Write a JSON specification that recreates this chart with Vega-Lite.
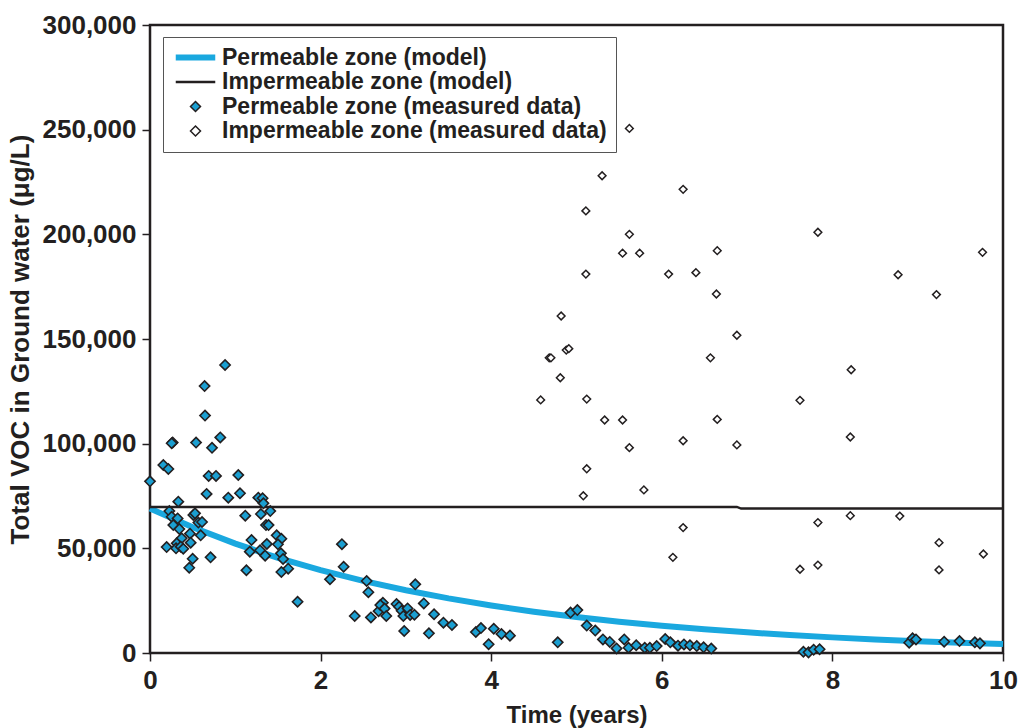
{
  "$schema": "https://vega.github.io/schema/vega-lite/v6.json",
  "width": 853,
  "height": 628,
  "autosize": {"type": "none"},
  "padding": {"left": 150, "top": 25, "right": 17, "bottom": 75},
  "background": "#ffffff",
  "config": {
    "font": "Liberation Sans",
    "view": {"stroke": "#231f20", "strokeWidth": 2.5},
    "axis": {
      "domain": false,
      "grid": false,
      "labelFlush": false,
      "tickColor": "#231f20",
      "tickWidth": 1.5,
      "tickSize": 8,
      "labelFont": "Liberation Sans",
      "labelFontWeight": "bold",
      "labelFontSize": 26,
      "labelColor": "#231f20",
      "titleFont": "Liberation Sans",
      "titleFontWeight": "bold",
      "titleFontSize": 24,
      "titleColor": "#231f20"
    }
  },
  "datasets": {
    "model": [
      {"series": "Permeable zone (model)", "t": 0, "v": 69000},
      {"series": "Permeable zone (model)", "t": 0.5, "v": 60045},
      {"series": "Permeable zone (model)", "t": 1, "v": 52254},
      {"series": "Permeable zone (model)", "t": 1.5, "v": 45471},
      {"series": "Permeable zone (model)", "t": 2, "v": 39571},
      {"series": "Permeable zone (model)", "t": 2.5, "v": 34437},
      {"series": "Permeable zone (model)", "t": 3, "v": 29967},
      {"series": "Permeable zone (model)", "t": 3.5, "v": 26080},
      {"series": "Permeable zone (model)", "t": 4, "v": 22694},
      {"series": "Permeable zone (model)", "t": 4.5, "v": 19750},
      {"series": "Permeable zone (model)", "t": 5, "v": 17187},
      {"series": "Permeable zone (model)", "t": 5.5, "v": 14957},
      {"series": "Permeable zone (model)", "t": 6, "v": 13015},
      {"series": "Permeable zone (model)", "t": 6.5, "v": 11327},
      {"series": "Permeable zone (model)", "t": 7, "v": 9857},
      {"series": "Permeable zone (model)", "t": 7.5, "v": 8578},
      {"series": "Permeable zone (model)", "t": 8, "v": 7465},
      {"series": "Permeable zone (model)", "t": 8.5, "v": 6496},
      {"series": "Permeable zone (model)", "t": 9, "v": 5653},
      {"series": "Permeable zone (model)", "t": 9.5, "v": 4920},
      {"series": "Permeable zone (model)", "t": 10, "v": 4281},
      {"series": "Impermeable zone (model)", "t": 0, "v": 69800},
      {"series": "Impermeable zone (model)", "t": 6.88, "v": 69800},
      {"series": "Impermeable zone (model)", "t": 6.93, "v": 69000},
      {"series": "Impermeable zone (model)", "t": 10, "v": 69000}
    ],
    "permeable": [
      {"t": 0, "v": 82000}, {"t": 0.88, "v": 137600}, {"t": 0.64, "v": 127500}, {"t": 0.645, "v": 113400},
      {"t": 0.266, "v": 100600}, {"t": 0.254, "v": 100200}, {"t": 0.54, "v": 100500}, {"t": 0.824, "v": 103000},
      {"t": 0.727, "v": 98000}, {"t": 0.156, "v": 89800}, {"t": 0.215, "v": 87900}, {"t": 0.688, "v": 84600},
      {"t": 0.774, "v": 84600}, {"t": 1.035, "v": 85000}, {"t": 0.332, "v": 72300}, {"t": 0.664, "v": 76000},
      {"t": 0.918, "v": 74200}, {"t": 1.055, "v": 76300}, {"t": 1.27, "v": 74200}, {"t": 1.32, "v": 73900},
      {"t": 1.33, "v": 71500}, {"t": 1.41, "v": 67800}, {"t": 0.227, "v": 67800}, {"t": 0.254, "v": 65100},
      {"t": 0.324, "v": 64300}, {"t": 0.273, "v": 61100}, {"t": 0.344, "v": 59200}, {"t": 0.508, "v": 65900},
      {"t": 0.528, "v": 66700}, {"t": 0.567, "v": 62300}, {"t": 0.61, "v": 62600}, {"t": 0.594, "v": 56200},
      {"t": 0.469, "v": 57000}, {"t": 0.371, "v": 54800}, {"t": 0.313, "v": 52400}, {"t": 0.305, "v": 50000},
      {"t": 0.36, "v": 50800}, {"t": 0.39, "v": 49800}, {"t": 0.195, "v": 50600}, {"t": 0.477, "v": 52700},
      {"t": 0.5, "v": 45000}, {"t": 0.46, "v": 40700}, {"t": 0.71, "v": 45700}, {"t": 1.117, "v": 65600},
      {"t": 1.19, "v": 54000}, {"t": 1.17, "v": 48400}, {"t": 1.13, "v": 39500}, {"t": 1.3, "v": 66400},
      {"t": 1.36, "v": 61100}, {"t": 1.39, "v": 61100}, {"t": 1.37, "v": 52100}, {"t": 1.29, "v": 49100},
      {"t": 1.35, "v": 46500}, {"t": 1.485, "v": 56200}, {"t": 1.54, "v": 54600}, {"t": 1.5, "v": 51900},
      {"t": 1.535, "v": 47600}, {"t": 1.56, "v": 44900}, {"t": 1.62, "v": 40300}, {"t": 1.54, "v": 38700},
      {"t": 1.73, "v": 24500}, {"t": 2.11, "v": 35200}, {"t": 2.25, "v": 52000}, {"t": 2.27, "v": 41200},
      {"t": 2.54, "v": 34400}, {"t": 2.56, "v": 29000}, {"t": 3.11, "v": 32800}, {"t": 2.4, "v": 17700},
      {"t": 2.59, "v": 17000}, {"t": 2.68, "v": 20000}, {"t": 2.73, "v": 24000}, {"t": 2.7, "v": 22900},
      {"t": 2.75, "v": 21200}, {"t": 2.77, "v": 17700}, {"t": 2.89, "v": 23400}, {"t": 2.92, "v": 22100},
      {"t": 2.95, "v": 20200}, {"t": 2.97, "v": 17700}, {"t": 3.02, "v": 21300}, {"t": 3.05, "v": 18200},
      {"t": 3.1, "v": 18300}, {"t": 2.98, "v": 10500}, {"t": 3.21, "v": 23700}, {"t": 3.33, "v": 18500},
      {"t": 3.27, "v": 9400}, {"t": 3.44, "v": 14500}, {"t": 3.54, "v": 13400}, {"t": 3.82, "v": 10000},
      {"t": 3.88, "v": 11900}, {"t": 4.03, "v": 11600}, {"t": 3.97, "v": 4200}, {"t": 4.12, "v": 9100},
      {"t": 4.22, "v": 8300}, {"t": 4.78, "v": 5100}, {"t": 4.93, "v": 19300}, {"t": 5.01, "v": 20500},
      {"t": 5.12, "v": 13100}, {"t": 5.22, "v": 10700}, {"t": 5.31, "v": 6500}, {"t": 5.39, "v": 5300},
      {"t": 5.47, "v": 2200}, {"t": 5.56, "v": 6500}, {"t": 5.61, "v": 2500}, {"t": 5.7, "v": 3700},
      {"t": 5.8, "v": 2500}, {"t": 5.86, "v": 2500}, {"t": 5.94, "v": 3300}, {"t": 6.04, "v": 6700},
      {"t": 6.1, "v": 5100}, {"t": 6.19, "v": 3500}, {"t": 6.26, "v": 4100}, {"t": 6.33, "v": 3700},
      {"t": 6.41, "v": 3300}, {"t": 6.49, "v": 2700}, {"t": 6.58, "v": 2100}, {"t": 7.66, "v": 600},
      {"t": 7.72, "v": 300}, {"t": 7.78, "v": 1600}, {"t": 7.85, "v": 1800}, {"t": 8.9, "v": 4900},
      {"t": 8.94, "v": 7000}, {"t": 8.98, "v": 6500}, {"t": 9.31, "v": 5400}, {"t": 9.49, "v": 5700},
      {"t": 9.67, "v": 5100}, {"t": 9.73, "v": 4600}
    ],
    "impermeable": [
      {"t": 5.62, "v": 250600}, {"t": 5.3, "v": 228000}, {"t": 6.25, "v": 221500}, {"t": 5.11, "v": 211200},
      {"t": 5.62, "v": 200000}, {"t": 5.54, "v": 191000}, {"t": 5.74, "v": 191000}, {"t": 6.65, "v": 192200},
      {"t": 5.11, "v": 181000}, {"t": 6.08, "v": 181000}, {"t": 6.4, "v": 181700}, {"t": 6.64, "v": 171500},
      {"t": 4.82, "v": 161000}, {"t": 6.88, "v": 151800}, {"t": 6.57, "v": 141000}, {"t": 4.68, "v": 141000},
      {"t": 4.7, "v": 141000}, {"t": 4.88, "v": 144700}, {"t": 4.91, "v": 145400}, {"t": 4.81, "v": 131500},
      {"t": 4.58, "v": 120900}, {"t": 5.12, "v": 121300}, {"t": 5.33, "v": 111300}, {"t": 5.54, "v": 111300},
      {"t": 6.65, "v": 111600}, {"t": 6.25, "v": 101400}, {"t": 6.88, "v": 99400}, {"t": 5.62, "v": 98100},
      {"t": 5.12, "v": 88000}, {"t": 5.79, "v": 77900}, {"t": 5.08, "v": 75100}, {"t": 6.25, "v": 59900},
      {"t": 6.13, "v": 45700}, {"t": 7.83, "v": 201000}, {"t": 9.76, "v": 191400}, {"t": 8.77, "v": 180700},
      {"t": 9.22, "v": 171200}, {"t": 8.22, "v": 135300}, {"t": 7.62, "v": 120700}, {"t": 8.21, "v": 103200},
      {"t": 7.83, "v": 62300}, {"t": 8.21, "v": 65600}, {"t": 8.79, "v": 65400}, {"t": 9.25, "v": 52700},
      {"t": 9.77, "v": 47300}, {"t": 7.62, "v": 40000}, {"t": 7.83, "v": 42000}, {"t": 9.25, "v": 39700}
    ]
  },
  "encoding": {
    "x": {
      "field": "t", "type": "quantitative",
      "scale": {"domain": [0, 10], "nice": false, "zero": false},
      "axis": {"values": [0, 2, 4, 6, 8, 10], "title": "Time (years)", "labelPadding": 6, "titlePadding": 10}
    },
    "y": {
      "field": "v", "type": "quantitative",
      "scale": {"domain": [0, 300000], "nice": false},
      "axis": {"values": [0, 50000, 100000, 150000, 200000, 250000, 300000], "format": ",d", "title": "Total VOC in Ground water (μg/L)", "titleFontSize": 26, "labelPadding": 6, "titlePadding": 9}
    }
  },
  "layer": [
    {
      "data": {"name": "model"},
      "transform": [{"filter": "datum.series === 'Permeable zone (model)'"}],
      "mark": {"type": "line", "color": "#1aa8df", "strokeWidth": 6}
    },
    {
      "data": {"name": "model"},
      "transform": [{"filter": "datum.series === 'Impermeable zone (model)'"}],
      "mark": {"type": "line", "color": "#231f20", "strokeWidth": 2.5}
    },
    {
      "data": {"name": "permeable"},
      "mark": {"type": "point", "filled": true, "opacity": 1, "size": 105, "strokeWidth": 1.6},
      "encoding": {
        "shape": {"datum": "Permeable zone (measured data)", "type": "nominal",
          "scale": {"domain": ["Permeable zone (model)", "Impermeable zone (model)", "Permeable zone (measured data)", "Impermeable zone (measured data)"],
                    "range": ["M-3.8,-0.45H3.8V0.45H-3.8Z", "M-3.8,-0.1H3.8V0.1H-3.8Z", "diamond", "diamond"]},
          "legend": {
            "title": null, "orient": "none", "legendX": 13, "legendY": 12,
            "padding": 9, "strokeColor": "#555555", "fillColor": "#ffffff",
            "symbolSize": 100, "symbolStrokeWidth": 1.5, "symbolOffset": 12, "labelOffset": 15, "rowPadding": 0.5,
            "labelFont": "Liberation Sans", "labelFontWeight": "bold", "labelFontSize": 23, "labelColor": "#231f20", "labelLimit": 600,
            "symbolOpacity": 1
          }
        },
        "fill": {"datum": "Permeable zone (measured data)", "type": "nominal", "scale": {"domain": ["Permeable zone (model)", "Impermeable zone (model)", "Permeable zone (measured data)", "Impermeable zone (measured data)"], "range": ["#1aa8df", "#231f20", "#1b9fd1", "#ffffff"]}},
        "stroke": {"datum": "Permeable zone (measured data)", "type": "nominal", "scale": {"domain": ["Permeable zone (model)", "Impermeable zone (model)", "Permeable zone (measured data)", "Impermeable zone (measured data)"], "range": ["#1aa8df", "#231f20", "#231f20", "#231f20"]}}
      }
    },
    {
      "data": {"name": "impermeable"},
      "mark": {"type": "point", "filled": true, "opacity": 1, "size": 60, "strokeWidth": 1.5},
      "encoding": {
        "shape": {"datum": "Impermeable zone (measured data)", "type": "nominal"},
        "fill": {"datum": "Impermeable zone (measured data)", "type": "nominal"},
        "stroke": {"datum": "Impermeable zone (measured data)", "type": "nominal"}
      }
    }
  ]
}
